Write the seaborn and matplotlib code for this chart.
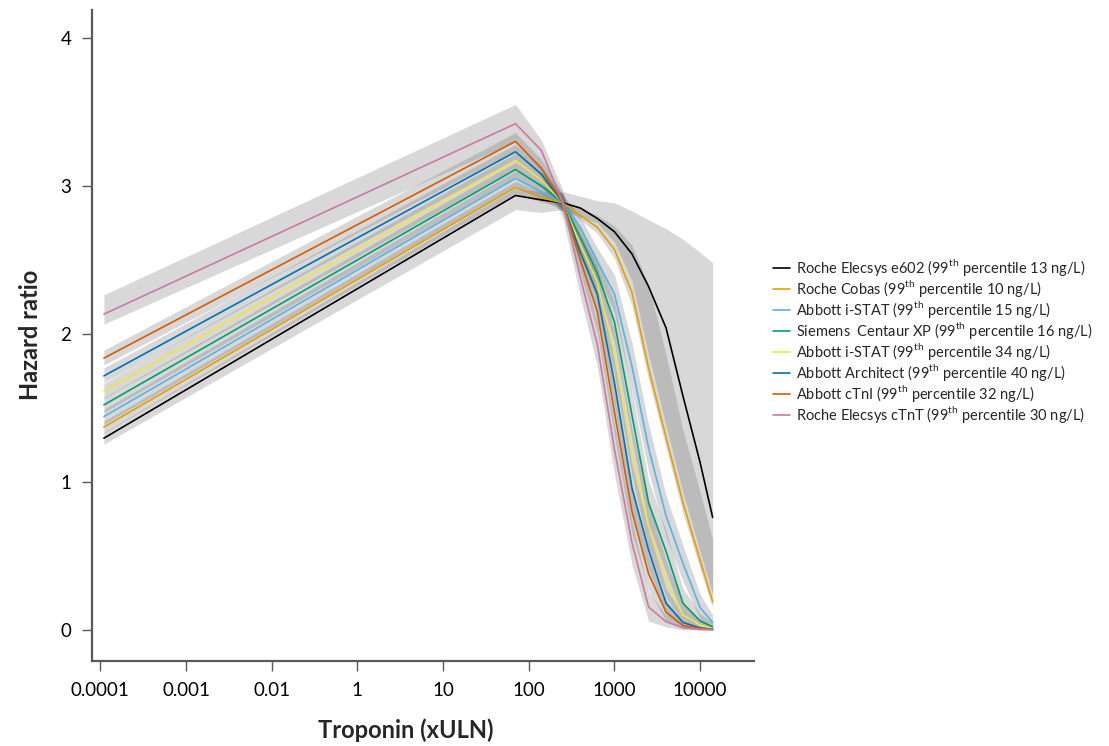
import numpy as np
import pandas as pd
import matplotlib
matplotlib.use('Agg')
import matplotlib.pyplot as plt
import seaborn as sns

sns.set_style('white')
plt.rcParams['font.family'] = ['Lato', 'DejaVu Sans']
plt.rcParams['mathtext.fontset'] = 'custom'
plt.rcParams['mathtext.rm'] = 'Lato'

# axis labels as printed in the original (evenly spaced, no 0.1)
tick_values = [0.0001, 0.001, 0.01, 1, 10, 100, 1000, 10000]
tick_labels = ['0.0001', '0.001', '0.01', '1', '10', '100', '1000', '10000']

# troponin (xULN) where the curves were read
troponin = [0.00011, 70, 140, 250, 400, 630, 1000, 1600, 2500, 4000, 6300, 10000, 14000]

assays = [
    'Roche Elecsys e602 (99$^{\\mathrm{th}}$ percentile 13 ng/L)',
    'Roche Cobas (99$^{\\mathrm{th}}$ percentile 10 ng/L)',
    'Abbott i-STAT (99$^{\\mathrm{th}}$ percentile 15 ng/L)',
    'Siemens  Centaur XP (99$^{\\mathrm{th}}$ percentile 16 ng/L)',
    'Abbott i-STAT (99$^{\\mathrm{th}}$ percentile 34 ng/L)',
    'Abbott Architect (99$^{\\mathrm{th}}$ percentile 40 ng/L)',
    'Abbott cTnI (99$^{\\mathrm{th}}$ percentile 32 ng/L)',
    'Roche Elecsys cTnT (99$^{\\mathrm{th}}$ percentile 30 ng/L)',
]
colors = ['#000000', '#E69F00', '#56B4E9', '#009E73',
          '#F0E442', '#0072B2', '#D55E00', '#CC79A7']

# hazard ratio and confidence band, one set per assay
hr_e602 = [1.295, 2.935, 2.905, 2.885, 2.85, 2.78, 2.69, 2.54, 2.32, 2.04, 1.58, 1.13, 0.76]
lo_e602 = [1.255, 2.84, 2.82, 2.84, 2.79, 2.75, 2.62, 2.36, 1.86, 1.38, 0.93, 0.53, 0.24]
hi_e602 = [1.335, 2.985, 2.96, 2.96, 2.93, 2.90, 2.885, 2.83, 2.77, 2.71, 2.64, 2.55, 2.48]

hr_cobas = [1.37, 2.99, 2.92, 2.885, 2.80, 2.72, 2.57, 2.28, 1.77, 1.30, 0.86, 0.47, 0.19]
lo_cobas = [1.33, 2.95, 2.89, 2.86, 2.77, 2.68, 2.51, 2.19, 1.69, 1.23, 0.79, 0.41, 0.15]
hi_cobas = [1.41, 3.03, 2.96, 2.90, 2.85, 2.80, 2.73, 2.60, 2.33, 1.86, 1.35, 0.93, 0.61]

hr_istat15 = [1.441, 3.05, 2.96, 2.885, 2.72, 2.49, 2.27, 1.78, 1.23, 0.77, 0.45, 0.15, 0.05]
lo_istat15 = [1.39, 3.00, 2.91, 2.83, 2.65, 2.40, 2.14, 1.62, 1.07, 0.63, 0.33, 0.07, 0.01]
hi_istat15 = [1.49, 3.10, 3.01, 2.94, 2.79, 2.58, 2.40, 1.94, 1.39, 0.91, 0.57, 0.24, 0.10]

hr_centaur = [1.52, 3.11, 3.00, 2.885, 2.65, 2.41, 2.08, 1.45, 0.86, 0.53, 0.18, 0.06, 0.02]
lo_centaur = [1.47, 3.06, 2.95, 2.83, 2.58, 2.31, 1.94, 1.29, 0.71, 0.39, 0.09, 0.02, 0.0]
hi_centaur = [1.57, 3.16, 3.05, 2.94, 2.72, 2.51, 2.22, 1.61, 1.01, 0.67, 0.28, 0.11, 0.05]

hr_istat34 = [1.615, 3.17, 3.04, 2.885, 2.60, 2.35, 1.87, 1.20, 0.70, 0.34, 0.10, 0.03, 0.01]
lo_istat34 = [1.565, 3.12, 2.99, 2.83, 2.52, 2.24, 1.72, 1.04, 0.55, 0.22, 0.05, 0.01, 0.0]
hi_istat34 = [1.665, 3.22, 3.09, 2.94, 2.68, 2.46, 2.02, 1.36, 0.85, 0.47, 0.18, 0.07, 0.03]

hr_architect = [1.716, 3.23, 3.08, 2.885, 2.55, 2.27, 1.67, 0.96, 0.54, 0.18, 0.05, 0.013, 0.004]
lo_architect = [1.67, 3.18, 3.03, 2.83, 2.47, 2.15, 1.51, 0.80, 0.41, 0.10, 0.02, 0.0, 0.0]
hi_architect = [1.77, 3.28, 3.13, 2.94, 2.63, 2.39, 1.83, 1.12, 0.68, 0.28, 0.10, 0.03, 0.01]

hr_ctni = [1.836, 3.30, 3.12, 2.885, 2.50, 2.15, 1.47, 0.80, 0.38, 0.12, 0.03, 0.008, 0.003]
lo_ctni = [1.79, 3.24, 3.06, 2.82, 2.41, 2.01, 1.31, 0.65, 0.27, 0.06, 0.01, 0.0, 0.0]
hi_ctni = [1.89, 3.36, 3.18, 2.95, 2.59, 2.29, 1.63, 0.95, 0.50, 0.20, 0.06, 0.02, 0.01]

hr_ctnt = [2.133, 3.42, 3.24, 2.885, 2.38, 1.93, 1.22, 0.59, 0.155, 0.055, 0.015, 0.004, 0.001]
lo_ctnt = [2.066, 3.30, 3.10, 2.78, 2.25, 1.78, 1.05, 0.44, 0.06, 0.02, 0.0, 0.0, 0.0]
hi_ctnt = [2.264, 3.55, 3.31, 2.97, 2.51, 2.08, 1.39, 0.74, 0.26, 0.10, 0.03, 0.01, 0.005]

hrs = [hr_e602, hr_cobas, hr_istat15, hr_centaur, hr_istat34, hr_architect, hr_ctni, hr_ctnt]
los = [lo_e602, lo_cobas, lo_istat15, lo_centaur, lo_istat34, lo_architect, lo_ctni, lo_ctnt]
his = [hi_e602, hi_cobas, hi_istat15, hi_centaur, hi_istat34, hi_architect, hi_ctni, hi_ctnt]


def to_axis(v):
    # place values on the evenly spaced label axis of the original
    lv = np.log10(v)
    tl = np.log10(tick_values)
    pos = np.interp(lv, tl, np.arange(len(tl)))
    return np.where(lv > tl[-1], len(tl) - 1 + (lv - tl[-1]), pos)


pos = to_axis(np.array(troponin))

rows = []
for name, hr in zip(assays, hrs):
    for p, h in zip(pos, hr):
        rows.append({'pos': p, 'hr': h, 'assay': name})
df = pd.DataFrame(rows)

fig = plt.figure(figsize=(11.09, 7.46), dpi=100)
ax = fig.add_axes([0.083, 0.114, 0.597, 0.873])

for lo, hi in zip(los, his):
    ax.fill_between(pos, lo, hi, color='#666666', alpha=0.25, lw=0)

sns.lineplot(data=df, x='pos', y='hr', hue='assay', hue_order=assays,
             palette=colors, estimator=None, sort=False, lw=1.2, ax=ax)

ax.set_xlim(-0.097, 7.63)
ax.set_ylim(-0.21, 4.19)
ax.set_xticks(range(len(tick_labels)))
ax.set_xticklabels(tick_labels)
ax.xaxis.get_major_ticks()[0].tick1line.set_visible(False)
ax.set_yticks([0, 1, 2, 3, 4])

sns.despine(ax=ax)
for side in ['left', 'bottom']:
    ax.spines[side].set_color('#595959')
    ax.spines[side].set_linewidth(1.6)
ax.tick_params(axis='both', direction='out', length=7, width=1, color='#595959',
               labelsize=13.5, labelcolor='black', pad=8, left=True, bottom=True)

ax.set_xlabel('Troponin (xULN)', fontsize=17, fontweight='bold')
ax.set_ylabel('Hazard ratio', fontsize=17, fontweight='bold')
ax.xaxis.set_label_coords(0.474, -0.088)
ax.yaxis.set_label_coords(-0.075, 0.5)

ax.legend(loc='upper left', bbox_to_anchor=(0.697, 0.655), bbox_transform=fig.transFigure,
          frameon=False, fontsize=10.5, handlelength=1.15, handletextpad=0.4,
          labelspacing=0.0, borderpad=0, borderaxespad=0)

fig.savefig('out.png', dpi=100)
